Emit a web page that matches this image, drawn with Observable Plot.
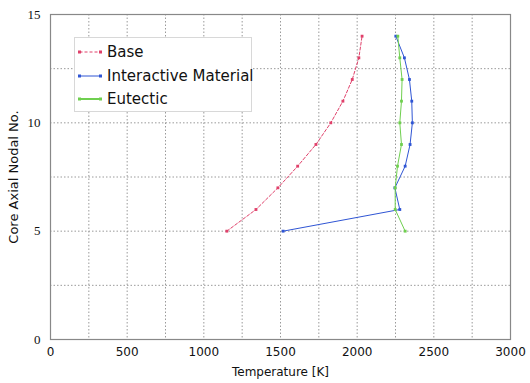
<!DOCTYPE html>
<html>
<head>
<meta charset="utf-8">
<script src="https://cdn.jsdelivr.net/npm/d3@7"></script>
<script src="https://cdn.jsdelivr.net/npm/@observablehq/plot@0.6"></script>
<style>
  html, body { margin: 0; padding: 0; background: #fff; }
  #wrap { position: relative; width: 530px; height: 383px; }
  #legend { position: absolute; left: 74px; top: 37px; width: 178px; height: 75px;
    background: #fff; border: 1px solid #d8d8d8; box-sizing: border-box;
    font-family: "DejaVu Sans", sans-serif; font-size: 15px; color: #111; white-space: nowrap; }
  .item { position: absolute; left: 3px; height: 20px; display: flex; align-items: center; white-space: nowrap; }
  .item svg { margin-right: 5px; flex: none; }
</style>
</head>
<body>
<div id="wrap"></div>
<script>
const nodes = [5, 6, 7, 8, 9, 10, 11, 12, 13, 14];
const baseTemp = [1150, 1340, 1483, 1612, 1731, 1828, 1907, 1968, 2011, 2032];
const interactiveTemp = [1517, 2278, 2246, 2313, 2345, 2360, 2356, 2341, 2308, 2252];
const eutecticTemp = [2313, 2248, 2248, 2263, 2289, 2278, 2289, 2293, 2278, 2265];

const seriesNames = ["Base", "Interactive Material", "Eutectic"];
const seriesColors = ["#e0406a", "#2f55d4", "#6fcf4f"];
const seriesDash = ["3,2", null, null];

const xTicks = [0, 500, 1000, 1500, 2000, 2500, 3000];
const yTicks = [0, 5, 10, 15];
const xGrid = [250, 500, 750, 1000, 1250, 1500, 1750, 2000, 2250, 2500, 2750];
const yGrid = [2.5, 5, 7.5, 10, 12.5];

const allSeries = [baseTemp, interactiveTemp, eutecticTemp];
const rows = [];
allSeries.forEach((vals, s) => vals.forEach((t, i) => rows.push({series: seriesNames[s], temp: t, node: nodes[i]})));

const marks = [
  Plot.ruleX(xGrid, {stroke: "#9a9a9a", strokeDasharray: "1.5,2", strokeWidth: 1}),
  Plot.ruleY(yGrid, {stroke: "#9a9a9a", strokeDasharray: "1.5,2", strokeWidth: 1}),
  Plot.frame({stroke: "#888", strokeWidth: 1.2})
];
seriesNames.forEach((name, s) => {
  const d = rows.filter(r => r.series === name);
  marks.push(Plot.line(d, {x: "temp", y: "node", stroke: seriesColors[s], strokeWidth: 1, strokeDasharray: seriesDash[s]}));
  marks.push(Plot.dot(d, {x: "temp", y: "node", symbol: "square", r: 1.6, fill: seriesColors[s], stroke: null}));
});
marks.push(
  Plot.axisX({ticks: xTicks, tickFormat: d => String(d), tickSize: 0, tickPadding: 8, fontSize: 12, label: "Temperature [K]", labelAnchor: "center", labelArrow: false, labelOffset: 36}),
  Plot.axisY({ticks: yTicks, tickFormat: d => String(d), tickSize: 0, tickPadding: 10, fontSize: 13, fontFamily: "Liberation Serif, serif", label: null}),
  Plot.axisY({ticks: [], tickSize: 0, fontSize: 13, label: "Core Axial Nodal No.", labelAnchor: "center", labelArrow: false, labelOffset: 42})
);

const chart = Plot.plot({
  width: 530,
  height: 383,
  marginLeft: 50,
  marginRight: 20,
  marginTop: 14,
  marginBottom: 44,
  x: {domain: [0, 3000]},
  y: {domain: [0, 15]},
  style: {fontFamily: "DejaVu Sans, sans-serif", color: "#111", background: "#fff"},
  marks
});
const wrap = document.getElementById("wrap");
wrap.appendChild(chart);

const legend = document.createElement("div");
legend.id = "legend";
seriesNames.forEach((name, s) => {
  const item = document.createElement("div");
  item.className = "item";
  item.style.top = (4 + s * 23.5) + "px";
  const ns = "http://www.w3.org/2000/svg";
  const sv = document.createElementNS(ns, "svg");
  sv.setAttribute("width", 24); sv.setAttribute("height", 8);
  const ln = document.createElementNS(ns, "line");
  ln.setAttribute("x1", 1.5); ln.setAttribute("x2", 22.5); ln.setAttribute("y1", 4); ln.setAttribute("y2", 4);
  ln.setAttribute("stroke", seriesColors[s]); ln.setAttribute("stroke-width", s === 2 ? 2 : 1);
  if (seriesDash[s]) ln.setAttribute("stroke-dasharray", seriesDash[s]);
  sv.appendChild(ln);
  [1.5, 22.5].forEach(cx => {
    const r = document.createElementNS(ns, "rect");
    r.setAttribute("x", cx - 1.5); r.setAttribute("y", 2.5); r.setAttribute("width", 3); r.setAttribute("height", 3);
    r.setAttribute("fill", seriesColors[s]);
    sv.appendChild(r);
  });
  item.appendChild(sv);
  const t = document.createElement("span");
  t.textContent = name;
  item.appendChild(t);
  legend.appendChild(item);
});
wrap.appendChild(legend);
</script>
</body>
</html>
